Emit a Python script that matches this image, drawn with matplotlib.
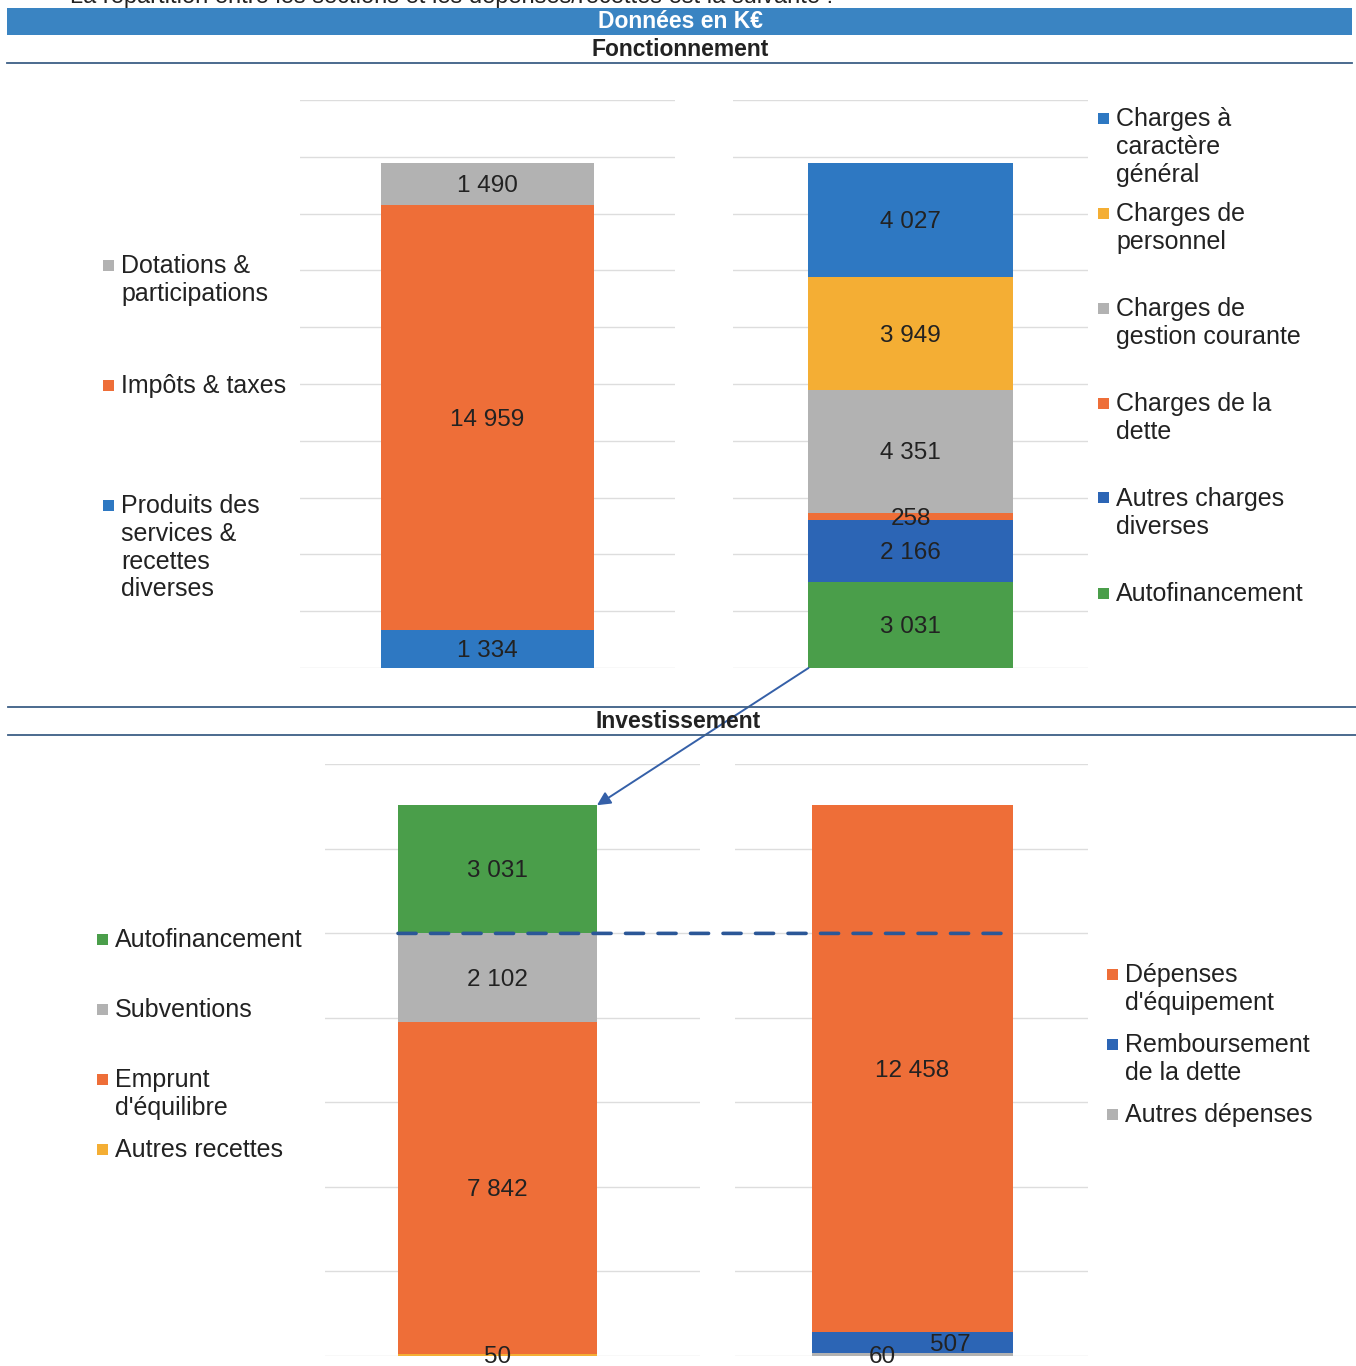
import matplotlib
matplotlib.use("Agg")
import matplotlib.pyplot as plt
from matplotlib.patches import Rectangle, ConnectionPatch

plt.rcParams['font.family'] = ['Liberation Sans', 'DejaVu Sans']

# ---- data (stacks listed bottom -> top), values in K€
fonct_rec_labels = ["Produits des services & recettes diverses", "Impôts & taxes",
                    "Dotations & participations"]
fonct_rec_values = [1334, 14959, 1490]

fonct_dep_labels = ["Autofinancement", "Autres charges diverses", "Charges de la dette",
                    "Charges de gestion courante", "Charges de personnel",
                    "Charges à caractère général"]
fonct_dep_values = [3031, 2166, 258, 4351, 3949, 4027]

inv_rec_labels = ["Autres recettes", "Emprunt d'équilibre", "Subventions", "Autofinancement"]
inv_rec_values = [50, 7842, 2102, 3031]

inv_dep_labels = ["Autres dépenses", "Remboursement de la dette", "Dépenses d'équipement"]
inv_dep_values = [60, 507, 12458]

# legend texts as wrapped in the original (top -> bottom)
leg_fonct_rec = ["Dotations &\nparticipations", "Impôts & taxes",
                 "Produits des\nservices &\nrecettes\ndiverses"]
leg_fonct_dep = ["Charges à\ncaractère\ngénéral", "Charges de\npersonnel",
                 "Charges de\ngestion courante", "Charges de la\ndette",
                 "Autres charges\ndiverses", "Autofinancement"]
leg_inv_rec = ["Autofinancement", "Subventions", "Emprunt\nd'équilibre", "Autres recettes"]
leg_inv_dep = ["Dépenses\nd'équipement", "Remboursement\nde la dette", "Autres dépenses"]

# ---- colours
BLUE = '#2E78C2'
DBLUE = '#2C65B5'
ORANGE = '#EE6E38'
GRAY = '#B2B2B2'
YELLOW = '#F4AE34'
GREEN = '#4A9E4A'

c_fonct_rec = [BLUE, ORANGE, GRAY]
c_fonct_dep = [GREEN, DBLUE, ORANGE, GRAY, YELLOW, BLUE]
c_inv_rec = [YELLOW, ORANGE, GRAY, GREEN]
c_inv_dep = [GRAY, DBLUE, ORANGE]

W, H = 1356, 1366
fig = plt.figure(figsize=(W / 100, H / 100), dpi=100)


def fx(x):
    return x / W


def fy(y):
    return 1 - y / H


def box(l, t, r, b):
    return fig.add_axes([fx(l), fy(b), (r - l) / W, (b - t) / H])


def fmt(v):
    return f"{v:,}".replace(",", " ")


def stack(ax, values, colors, ymax, xlim, offsets=None):
    ax.set_xlim(*xlim)
    ax.set_ylim(0, ymax)
    ax.set_yticks(range(0, ymax + 1, 2000))
    ax.grid(axis='y', color='#DDDDDD', lw=1)
    ax.set_axisbelow(True)
    for s in ax.spines.values():
        s.set_visible(False)
    ax.tick_params(left=False, labelleft=False, bottom=False, labelbottom=False)
    bottom = 0
    for i, (v, c) in enumerate(zip(values, colors)):
        ax.bar(0, v, bottom=bottom, width=1, color=c, edgecolor='none')
        dx = offsets[i] if offsets else 0
        ax.annotate(fmt(v), (0, bottom + v / 2), xytext=(dx, -1.5), textcoords='offset points',
                    ha='center', va='center', fontsize=17.5, color='#222222')
        bottom += v


def legend_at(xm, y0, step, labels, colors):
    for i, (lab, c) in enumerate(zip(labels, colors)):
        yc = y0 + i * step
        fig.add_artist(Rectangle((fx(xm), fy(yc + 5.5)), 11 / W, 11 / H,
                                 transform=fig.transFigure, color=c, lw=0))
        fig.text(fx(xm + 18), fy(yc - 11), lab, ha='left', va='top',
                 fontsize=18, color='#222222', linespacing=1.2)


def hrule(y, x0, x1):
    fig.add_artist(plt.Line2D([fx(x0), fx(x1)], [fy(y), fy(y)], transform=fig.transFigure,
                              color='#3D5F86', lw=1.3))


# ---- header
fig.text(fx(70), fy(-3), "La répartition entre les sections et les dépenses/recettes est la suivante :",
         ha='left', va='center', fontsize=17, color='#222222')
fig.add_artist(Rectangle((fx(7), fy(35)), (1352 - 7) / W, 27 / H, transform=fig.transFigure,
                         color='#3A84C2', lw=0))
fig.text(fx(680), fy(21), "Données en K€", ha='center', va='center', fontsize=16.5,
         fontweight='bold', color='white')
fig.text(fx(680), fy(49), "Fonctionnement", ha='center', va='center', fontsize=16.5,
         fontweight='bold', color='#222222')
hrule(63, 7, 1352)
hrule(707, 8, 1356)
hrule(735, 8, 1356)
fig.text(fx(678), fy(721), "Investissement", ha='center', va='center', fontsize=16.5,
         fontweight='bold', color='#222222')

# ---- charts
ax1 = box(300, 100, 675, 668)
ax2 = box(733, 100, 1088, 668)
ax3 = box(325, 764, 700, 1356)
ax4 = box(735, 764, 1088, 1356)

stack(ax1, fonct_rec_values, c_fonct_rec, 20000, (-0.88, 0.88))
stack(ax2, fonct_dep_values, c_fonct_dep, 20000, (-0.87, 0.87))
stack(ax3, inv_rec_values, c_inv_rec, 14000, (-0.867, 1.018))
stack(ax4, inv_dep_values, c_inv_dep, 14000, (-0.883, 0.873), offsets=[-22, 27, 0])

# ---- legends
legend_at(103, 265, 120, leg_fonct_rec, c_fonct_rec[::-1])
legend_at(1098, 118, 95, leg_fonct_dep, c_fonct_dep[::-1])
legend_at(97, 939, 70, leg_inv_rec, c_inv_rec[::-1])
legend_at(1107, 974, 70, leg_inv_dep, c_inv_dep[::-1])

# ---- autofinancement transfer arrow and dashed level line
arrow = ConnectionPatch(xyA=(-0.5, 0), coordsA=ax2.transData,
                        xyB=(0.5, sum(inv_rec_values)), coordsB=ax3.transData,
                        arrowstyle='-|>', mutation_scale=20, color='#3560A8', lw=1.4)
fig.add_artist(arrow)
level = sum(inv_rec_values[:3])
dash = ConnectionPatch(xyA=(-0.5, level), coordsA=ax3.transData,
                       xyB=(0.44, level), coordsB=ax4.transData,
                       color='#2B5797', lw=2.6, linestyle=(0, (5, 4)))
fig.add_artist(dash)

fig.savefig("out.png", dpi=100)
